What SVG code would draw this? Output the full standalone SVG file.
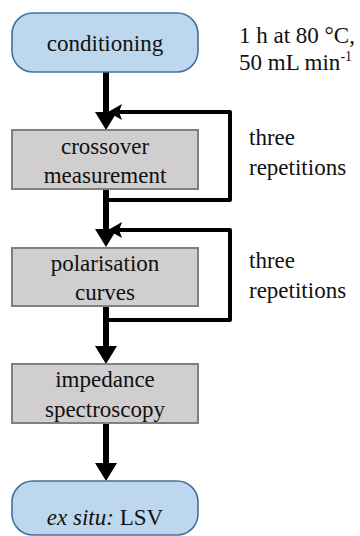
<svg xmlns="http://www.w3.org/2000/svg" width="360" height="536" viewBox="0 0 360 536">
<rect width="360" height="536" fill="#fff"/>
<g id="connectors" stroke="#000" fill="none">
<g stroke-width="6">
<line x1="106" y1="72" x2="106" y2="114"/>
<line x1="106" y1="189" x2="106" y2="231"/>
<line x1="106" y1="306" x2="106" y2="348"/>
<line x1="106" y1="423" x2="106" y2="465"/>
</g>
<g stroke-width="4" stroke-linejoin="round">
<polyline points="106,200 230,200 230,112 118,112"/>
<polyline points="106,320 230,320 230,230 118,230"/>
</g>
<g fill="#000" stroke="none">
<polygon points="95,112 117,112 106,130"/>
<polygon points="95,229 117,229 106,247"/>
<polygon points="95,346 117,346 106,364"/>
<polygon points="95,463 117,463 106,481"/>
<polygon points="108,112 122,104 119,112 122,120"/>
<polygon points="108,230 122,222 119,230 122,238"/>
</g>
</g>
<g font-family="Liberation Serif" font-size="23" fill="#111">
<g id="conditioning">
<rect x="12" y="13" width="186" height="59" rx="21" fill="#bdd7ee" stroke="#41719c" stroke-width="1.6"/>
<text x="105" y="51" text-anchor="middle" font-family="Liberation Serif" font-size="23">conditioning</text>
</g>
<g id="conditions-label">
<text x="239" y="43" font-family="Liberation Serif" font-size="23">1 h at 80 °C,</text>
<text x="239" y="70" font-family="Liberation Serif" font-size="23">50 mL min<tspan font-size="14" dy="-9">-1</tspan></text>
</g>
<g id="crossover">
<rect x="12" y="130" width="186" height="59" fill="#d0cece" stroke="#808080" stroke-width="2"/>
<text x="105" y="154" text-anchor="middle" font-family="Liberation Serif" font-size="23">crossover</text>
<text x="105" y="183" text-anchor="middle" font-family="Liberation Serif" font-size="23">measurement</text>
</g>
<g id="rep1">
<text x="249" y="145" font-family="Liberation Serif" font-size="23">three</text>
<text x="249" y="175" font-family="Liberation Serif" font-size="23">repetitions</text>
</g>
<g id="polarisation">
<rect x="12" y="248" width="186" height="58" fill="#d0cece" stroke="#808080" stroke-width="2"/>
<text x="105" y="271" text-anchor="middle" font-family="Liberation Serif" font-size="23">polarisation</text>
<text x="105" y="300" text-anchor="middle" font-family="Liberation Serif" font-size="23">curves</text>
</g>
<g id="rep2">
<text x="249" y="268" font-family="Liberation Serif" font-size="23">three</text>
<text x="249" y="298" font-family="Liberation Serif" font-size="23">repetitions</text>
</g>
<g id="impedance">
<rect x="12" y="364" width="186" height="59" fill="#d0cece" stroke="#808080" stroke-width="2"/>
<text x="105" y="387" text-anchor="middle" font-family="Liberation Serif" font-size="23">impedance</text>
<text x="105" y="417" text-anchor="middle" font-family="Liberation Serif" font-size="23">spectroscopy</text>
</g>
<g id="lsv">
<rect x="12" y="481" width="186" height="54" rx="21" fill="#bdd7ee" stroke="#41719c" stroke-width="1.6"/>
<text x="105" y="525" text-anchor="middle" font-family="Liberation Serif" font-size="23"><tspan font-style="italic">ex situ:</tspan> LSV</text>
</g>
</g>
</svg>
